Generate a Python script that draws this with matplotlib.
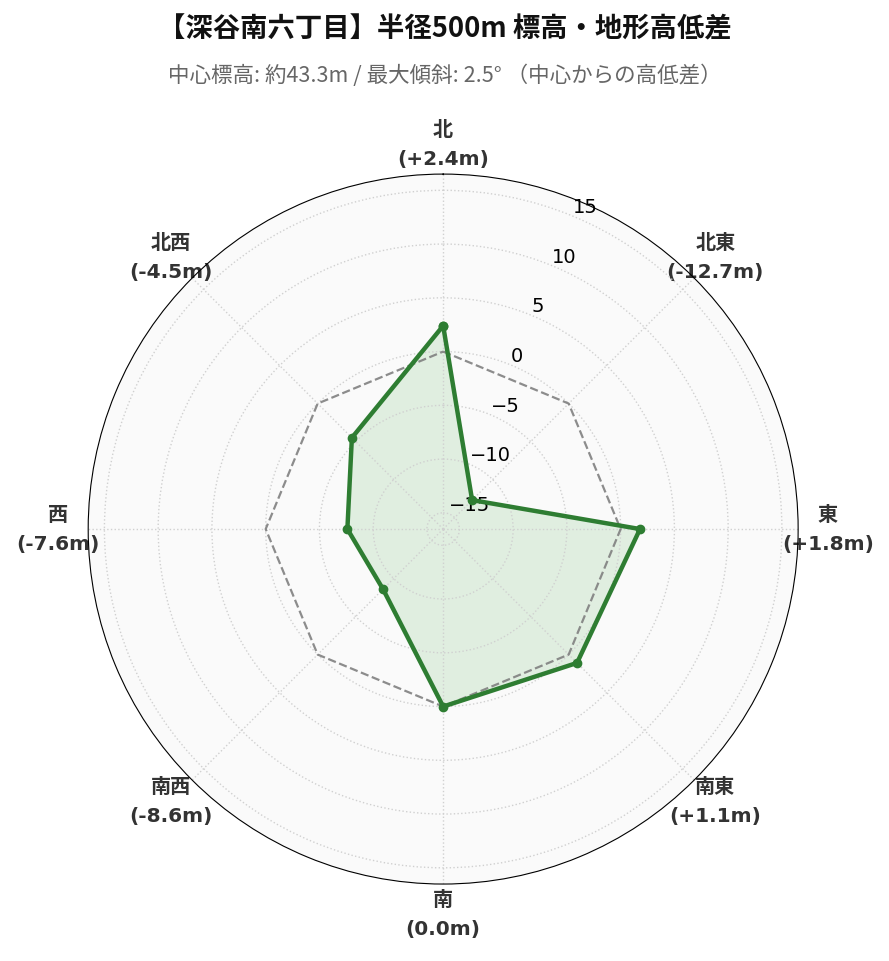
import matplotlib
matplotlib.use('Agg')
import matplotlib.pyplot as plt
import numpy as np

plt.rcParams['font.family'] = ['DejaVu Sans', 'Noto Sans CJK JP']

# データ
directions = ['北', '北東', '東', '南東', '南', '南西', '西', '北西']
diffs = [2.4, -12.7, 1.8, 1.1, 0.0, -8.6, -7.6, -4.5]
r_ticks = [-15, -10, -5, 0, 5, 10, 15]

title = '【深谷南六丁目】半径500m 標高・地形高低差'
subtitle = '中心標高: 約43.3m / 最大傾斜: 2.5° （中心からの高低差）'

n = len(directions)
angles = np.linspace(0, 2 * np.pi, n, endpoint=False)
ang_closed = np.append(angles, angles[0])
vals_closed = np.append(diffs, diffs[0])

lim = max(abs(v) for v in diffs) * 1.3

fig = plt.figure(figsize=(8.89, 9.62), dpi=100)
ax = fig.add_axes([0.099, 0.080, 0.799, 0.738], projection='polar')
ax.set_theta_offset(np.pi / 2)
ax.set_theta_direction(-1)
ax.set_facecolor('#fafafa')
ax.set_ylim(-lim, lim)

# 高低差ゼロの基準線
ax.plot(ang_closed, np.zeros(n + 1), color='gray', linestyle='--', linewidth=1.6, alpha=0.9)

ax.fill(ang_closed, vals_closed, color='#4caf50', alpha=0.15)
ax.plot(ang_closed, vals_closed, color='#2e7d32', linewidth=3.2, marker='o', markersize=6)

labels = []
for d, v in zip(directions, diffs):
    sign = '+' if v > 0 else ''
    labels.append(f'{d}\n({sign}{v:.1f}m)')
ax.set_xticks(angles)
ax.set_xticklabels(labels, fontsize=14.5, fontweight='bold', color='#333333', linespacing=1.65)
ax.tick_params(axis='x', pad=11)

ax.set_yticks(r_ticks)
ax.tick_params(axis='y', labelsize=14)
ax.grid(True, color='#d0d0d0', linestyle=':', linewidth=1)

fig.text(0.5, 0.969, title, ha='center', va='center', fontsize=19.7, fontweight='bold',
         family=['Noto Sans CJK JP'], color='#111111')
fig.text(0.5, 0.921, subtitle, ha='center', va='center', fontsize=15.5,
         family=['Noto Sans CJK JP'], color='#666666')

fig.savefig('out.png', dpi=100)
